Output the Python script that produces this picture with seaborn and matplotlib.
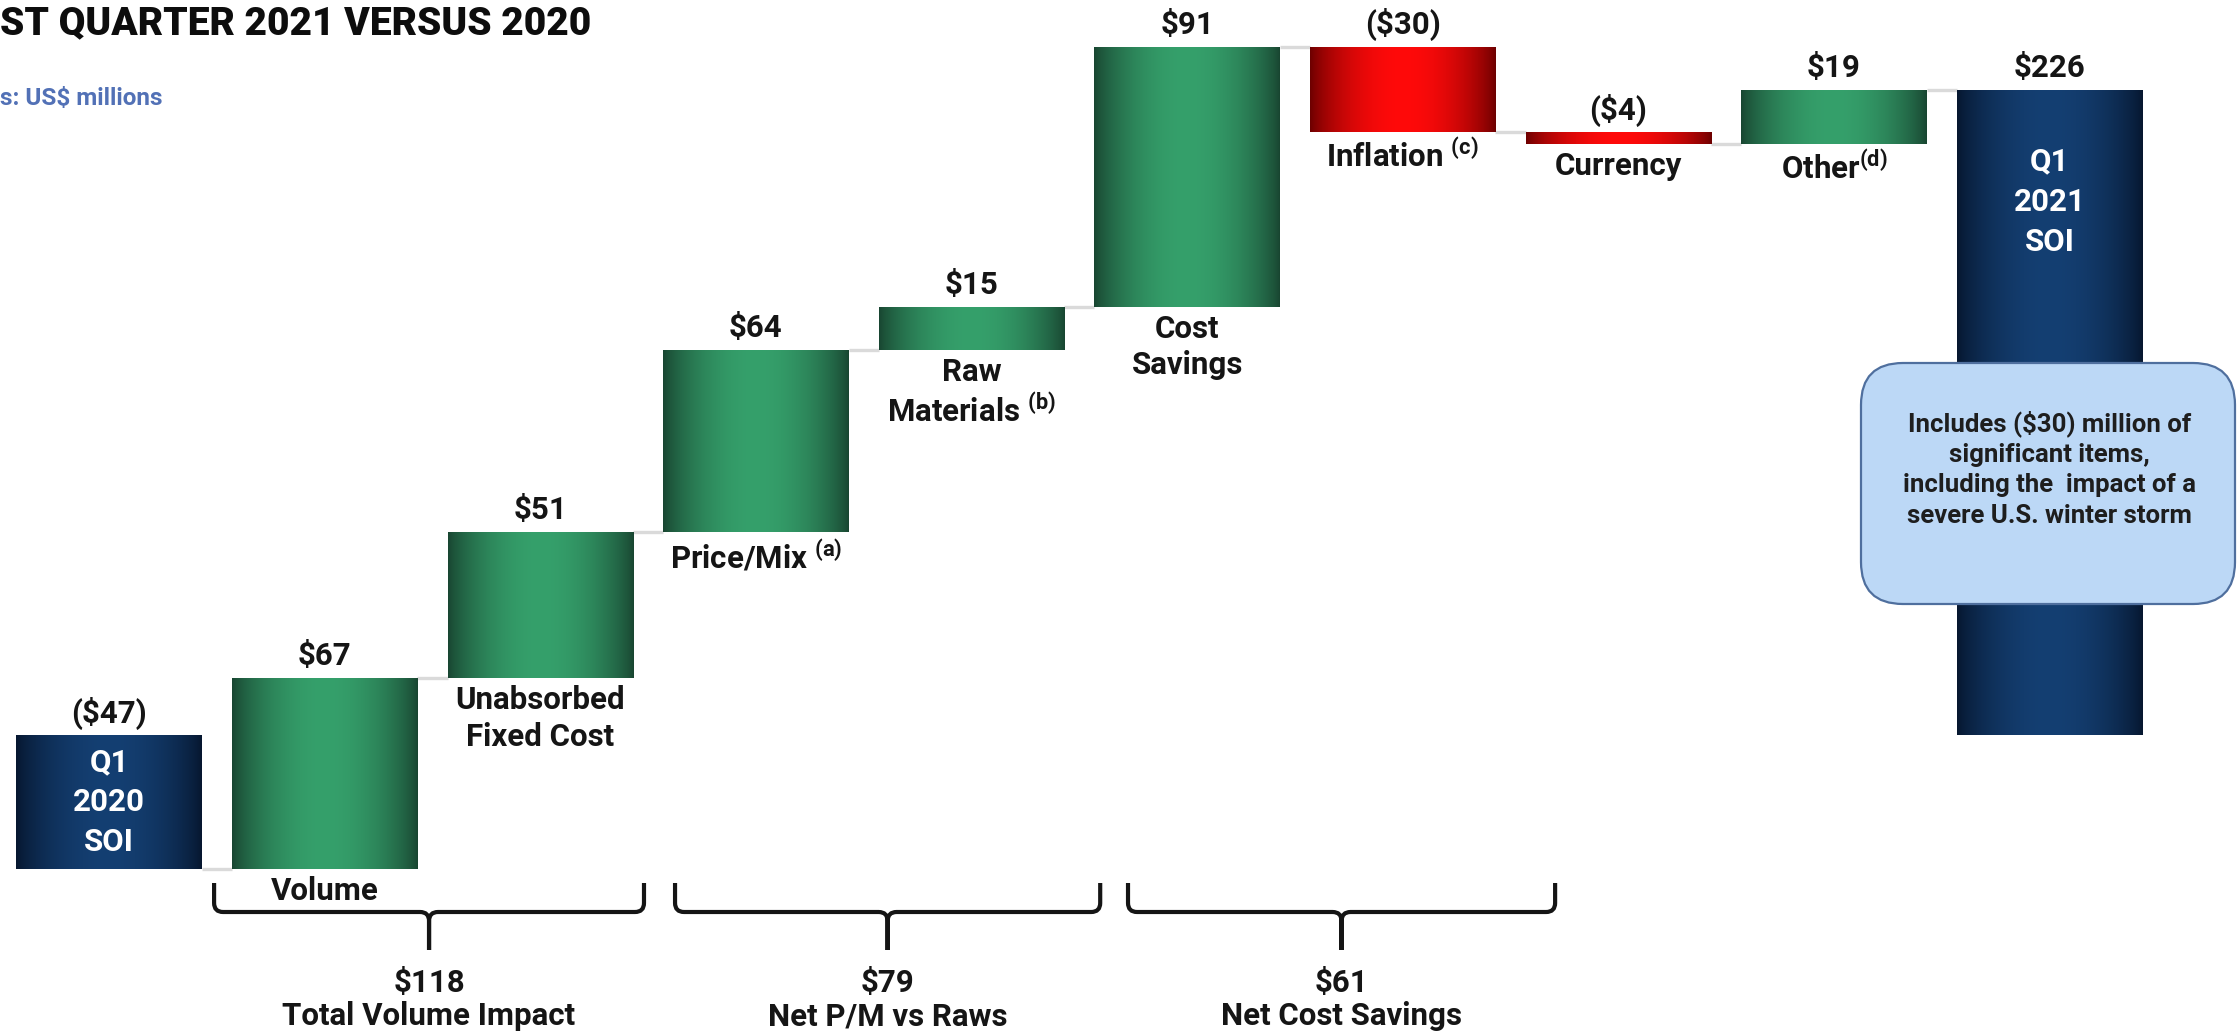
import numpy as np
import pandas as pd
import matplotlib
matplotlib.use("Agg")
import matplotlib.pyplot as plt
import matplotlib.colors as mcolors
from matplotlib.patches import FancyBboxPatch, PathPatch
from matplotlib.path import Path
from matplotlib.transforms import IdentityTransform
import seaborn as sns

# ---------------- data (US$ millions) ----------------
categories = ["Q1 2020 SOI", "Volume", "Unabsorbed Fixed Cost", "Price/Mix",
              "Raw Materials", "Cost Savings", "Inflation", "Currency", "Other",
              "Q1 2021 SOI"]
start_value = -47
changes = [67, 51, 64, 15, 91, -30, -4, 19]
end_value = 226

bar_labels = ["Q1\n2020\nSOI", "Volume", "Unabsorbed\nFixed Cost",
              "Price/Mix $^{(a)}$", "Raw\nMaterials $^{(b)}$", "Cost\nSavings",
              "Inflation $^{(c)}$", "Currency", "Other$^{(d)}$", "Q1\n2021\nSOI"]

group_names = ["Total Volume Impact", "Net P/M vs Raws", "Net Cost Savings"]
group_members = [(1, 2), (3, 4), (5, 6)]

title_text = "ST QUARTER 2021 VERSUS 2020"
units_text = "s: US$ millions"
note_text = ("Includes ($30) million of\nsignificant items,\n"
             "including the  impact of a\nsevere U.S. winter storm")

# ---------------- style ----------------
sns.set_theme(style="white")
plt.rcParams["font.family"] = ["Roboto", "DejaVu Sans"]
plt.rcParams["mathtext.fontset"] = "custom"
plt.rcParams["mathtext.rm"] = "Roboto:bold"
plt.rcParams["mathtext.it"] = "Roboto:bold"
plt.rcParams["mathtext.bf"] = "Roboto:bold"

INK = "#151515"
GREEN = ("#184430", "#35a06b")
RED = ("#6a0000", "#ff0a0a")
NAVY = ("#06162e", "#143f72")

W, H, DPI = 2239, 1034, 100
X_LIM = (-0.506, 9.879)
Y_LIM = (-104.7, 257.4)
BAR_W = 0.86
LABEL_SIZE = 22.5


def row_to_y(py):
    """Figure pixel row (counted from the top) -> data y."""
    return Y_LIM[1] - py * (Y_LIM[1] - Y_LIM[0]) / H


def fmt(v):
    return f"(${abs(v)})" if v < 0 else f"${v}"


# ---------------- waterfall geometry ----------------
levels = np.concatenate([[start_value], start_value + np.cumsum(changes)])
values = [start_value] + changes + [end_value]
bottoms = [min(start_value, 0)]
tops = [max(start_value, 0)]
for k in range(len(changes)):
    bottoms.append(min(levels[k], levels[k + 1]))
    tops.append(max(levels[k], levels[k + 1]))
bottoms.append(min(0, end_value))
tops.append(max(0, end_value))
bottoms = np.array(bottoms, dtype=float)
tops = np.array(tops, dtype=float)
kinds = ["total"] + ["up" if c > 0 else "down" for c in changes] + ["total"]

df = pd.DataFrame({"category": categories, "height": tops - bottoms})

fig = plt.figure(figsize=(W / DPI, H / DPI), dpi=DPI)
ax = fig.add_axes([0, 0, 1, 1])

sns.barplot(data=df, x="category", y="height", order=categories, width=BAR_W,
            color=GREEN[1], saturation=1, errorbar=None, ax=ax, zorder=2)

shade = {"total": NAVY, "up": GREEN, "down": RED}
t = np.linspace(0, 1, 400)
profile = np.sin(np.pi * t) ** 0.75

for patch, b, kind in zip(list(ax.patches), bottoms, kinds):
    patch.set_y(b)
    patch.set_edgecolor("none")
    dark, light = (np.array(mcolors.to_rgb(c)) for c in shade[kind])
    patch.set_facecolor(light)
    img = dark[None, :] + (light - dark)[None, :] * profile[:, None]
    x0, w, h = patch.get_x(), patch.get_width(), patch.get_height()
    im = ax.imshow(img[None, :, :], extent=(x0, x0 + w, b, b + h),
                   aspect="auto", interpolation="bilinear", origin="lower",
                   zorder=3)
    im.set_clip_path(patch)

# connectors between consecutive bars
for k in range(len(categories) - 1):
    ax.plot([k + BAR_W / 2, k + 1 - BAR_W / 2], [levels[k], levels[k]],
            color="#dadada", lw=2.4, zorder=1, solid_capstyle="butt")

# value labels above bars
for i, (v, top) in enumerate(zip(values, tops)):
    ax.annotate(fmt(v), (i, top), xytext=(0, 22), textcoords="offset pixels",
                ha="center", va="center", fontsize=LABEL_SIZE,
                fontweight="bold", color=INK, zorder=5)

# category labels below the floating bars
for i, (lab, kind) in enumerate(zip(bar_labels, kinds)):
    if kind == "total":
        continue
    ax.annotate(lab, (i, bottoms[i]), xytext=(0, -7),
                textcoords="offset pixels", ha="center", va="top",
                fontsize=LABEL_SIZE, fontweight="bold", color=INK,
                linespacing=1.28, zorder=5)

# labels inside the two total bars
ax.text(0, (bottoms[0] + tops[0]) / 2, bar_labels[0], ha="center",
        va="center", fontsize=LABEL_SIZE, fontweight="bold", color="white",
        linespacing=1.42, zorder=5)
ax.annotate(bar_labels[-1], (len(categories) - 1, tops[-1]), xytext=(0, -112),
            textcoords="offset pixels", ha="center", va="center",
            fontsize=LABEL_SIZE, fontweight="bold", color="white",
            linespacing=1.42, zorder=5)

# ---------------- group brackets ----------------
bracket_spans = [(0.487, 2.481), (2.625, 4.597), (4.726, 6.707)]
y_end, y_bar, y_tip = row_to_y(883), row_to_y(912), row_to_y(950)
rx = 9 * (X_LIM[1] - X_LIM[0]) / W
ry = 9 * (Y_LIM[1] - Y_LIM[0]) / H

for (left, right), members, name in zip(bracket_spans, group_members, group_names):
    c = (left + right) / 2
    verts, codes = [], []
    for side, sgn in ((left, 1), (right, -1)):
        verts += [(side, y_end), (side, y_bar + ry), (side, y_bar),
                  (side + sgn * rx, y_bar), (c - sgn * rx, y_bar),
                  (c, y_bar), (c, y_bar - ry), (c, y_tip)]
        codes += [Path.MOVETO, Path.LINETO, Path.CURVE3, Path.CURVE3,
                  Path.LINETO, Path.CURVE3, Path.CURVE3, Path.LINETO]
    ax.add_patch(PathPatch(Path(verts, codes), fill=False, lw=3.0,
                           edgecolor=INK, capstyle="butt", joinstyle="round",
                           zorder=4))
    total = sum(changes[m - 1] for m in members)
    ax.text(c, row_to_y(983), fmt(total), ha="center", va="center",
            fontsize=LABEL_SIZE, fontweight="bold", color=INK)
    ax.text(c, row_to_y(1016), name, ha="center", va="center",
            fontsize=LABEL_SIZE, fontweight="bold", color=INK)

# ---------------- callout ----------------
box = FancyBboxPatch((1861, H - 604), 374, 241,
                     boxstyle="round,pad=0,rounding_size=42",
                     transform=IdentityTransform(), facecolor="#bcd8f6",
                     edgecolor="#4f6f9e", lw=1.6, zorder=6)
ax.add_patch(box)
ax.text(len(categories) - 1, row_to_y(469), note_text, ha="center",
        va="center", fontsize=18.5, fontweight="bold", color="#1e1e1e",
        linespacing=1.32, zorder=7)

# ---------------- titles ----------------
fig.text(0.0, 1 - 24 / H, title_text, ha="left", va="center", fontsize=28,
         fontweight="black", color="#0d0d0d")
fig.text(0.0, 1 - 99 / H, units_text, ha="left", va="center", fontsize=17.5,
         fontweight="bold", color="#5271b6")

ax.set_xlim(*X_LIM)
ax.set_ylim(*Y_LIM)
ax.set_axis_off()

fig.savefig("out.png", dpi=DPI, facecolor="white")
